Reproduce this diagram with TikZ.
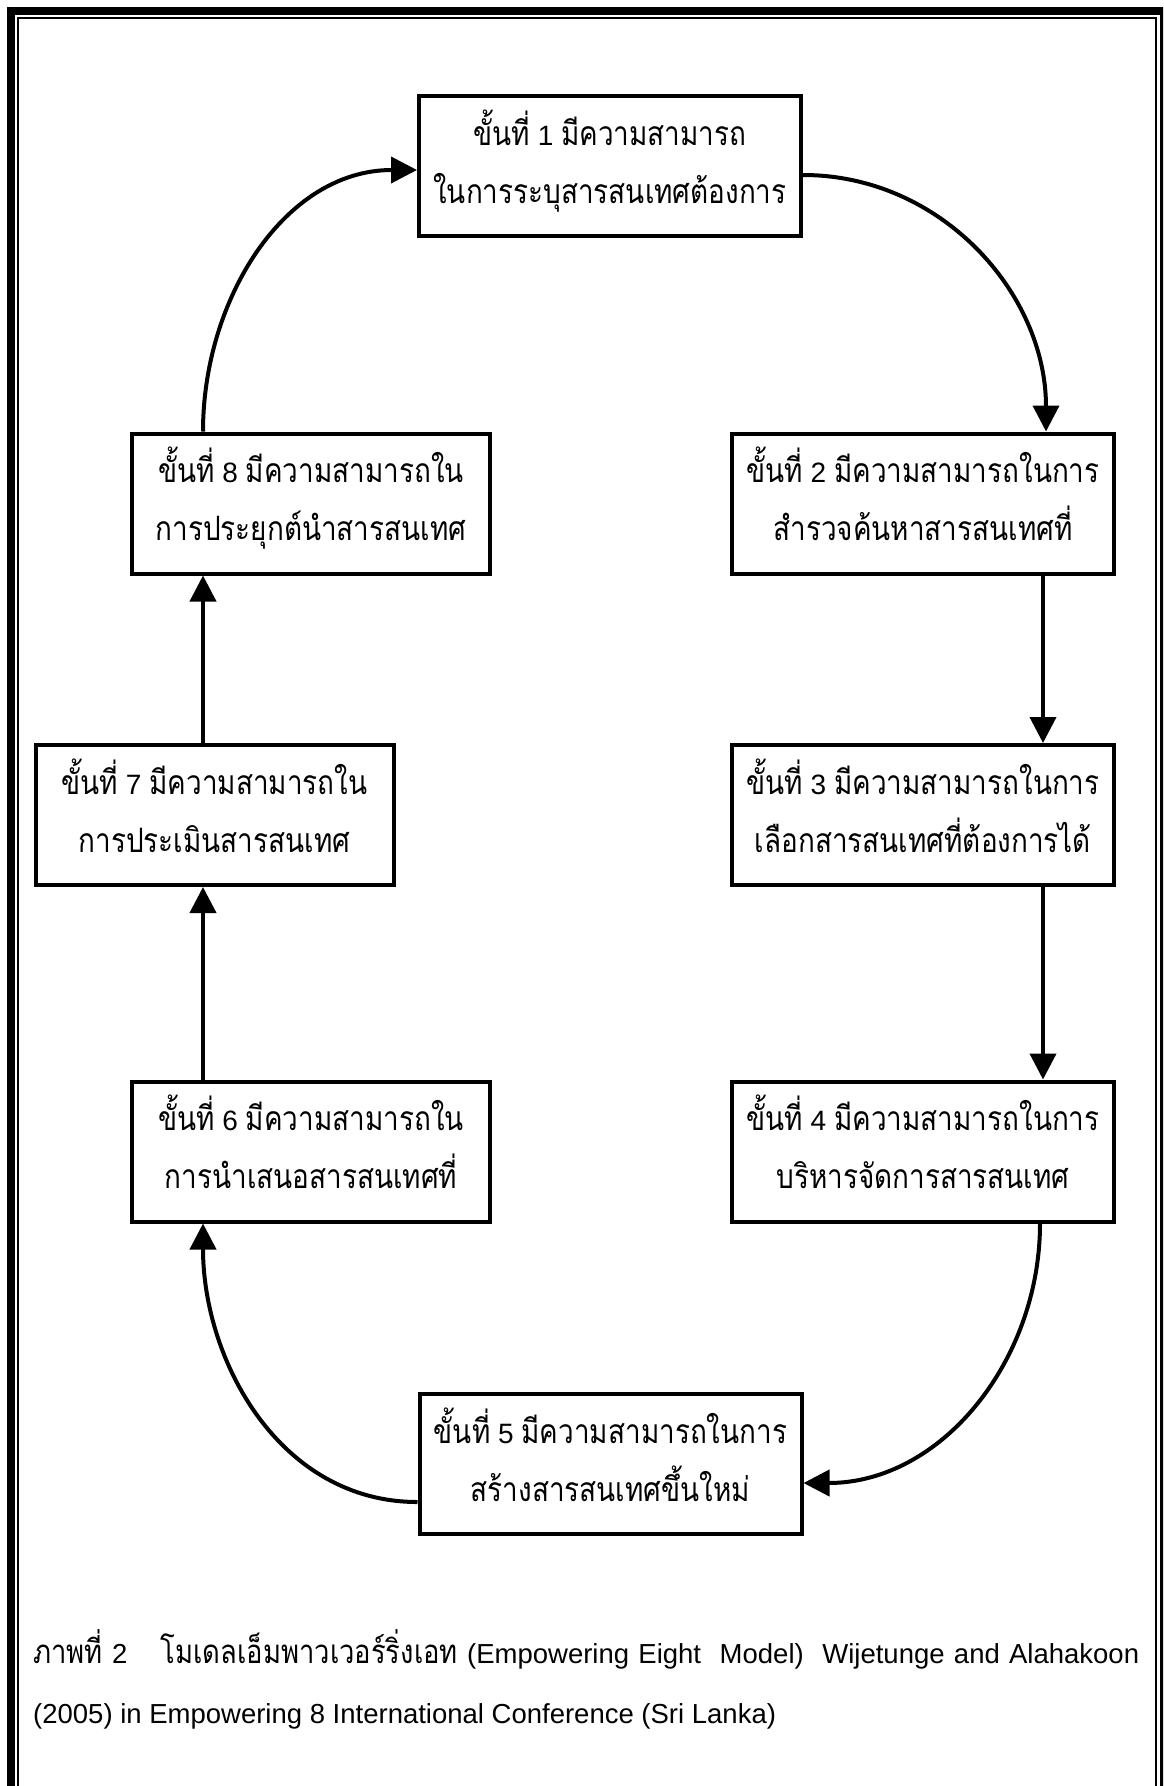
\documentclass[tikz,border=0pt]{standalone}
\usepackage{fontspec}
\setmainfont{Liberation Sans}
\newfontfamily\thai[Script=Thai,Scale=1.2,FakeStretch=0.83]{Loma}
\usetikzlibrary{arrows.meta}
\newcommand{\tht}[1]{{\thai #1}}
\newcommand{\boxlines}[3]{\vbox to 140pt{\offinterlineskip\hsize=#1\relax\vskip 49pt\hbox to #1{\hss\smash{#2}\hss}\vskip 58pt\hbox to #1{\hss\smash{#3}\hss}\vfill}}
\begin{document}
\begin{tikzpicture}[x=1pt,y=-1pt,
  stepbox/.style={draw, line width=4pt, inner sep=0pt, fill=white,
    font=\fontsize{28pt}{58pt}\selectfont},
  conn/.style={line width=4pt, -{Triangle[length=26pt,width=26pt]}},
  captext/.style={anchor=base west, inner sep=0pt, font=\fontsize{27.5pt}{33pt}\selectfont}]
\useasboundingbox (0,0) rectangle (1163,1786);
\clip (0,0) rectangle (1163,1786);
% page border
\draw[line width=8pt] (11,11) rectangle (1164,1800);
\draw[line width=2pt] (18,18) rectangle (1156,1800);
% helper coordinates for connector columns
\coordinate (xl) at (203,0);
\coordinate (xr) at (1043,0);
\coordinate (xra) at (1046,0);
\coordinate (xrb) at (1040,0);
% boxes
\node[stepbox] (b1) at (610,166) {\boxlines{382pt}{\tht{ขั้นที่} 1 \tht{มีความสามารถ}}{\tht{ในการระบุสารสนเทศต้องการ}}};
\node[stepbox] (b2) at (923,503.5) {\boxlines{382pt}{\tht{ขั้นที่} 2 \tht{มีความสามารถในการ}}{\tht{สำรวจค้นหาสารสนเทศที่}}};
\node[stepbox] (b3) at (923,815) {\boxlines{382pt}{\tht{ขั้นที่} 3 \tht{มีความสามารถในการ}}{\tht{เลือกสารสนเทศที่ต้องการได้}}};
\node[stepbox] (b4) at (923,1151.5) {\boxlines{382pt}{\tht{ขั้นที่} 4 \tht{มีความสามารถในการ}}{\tht{บริหารจัดการสารสนเทศ}}};
\node[stepbox] (b5) at (610.5,1464) {\boxlines{382pt}{\tht{ขั้นที่} 5 \tht{มีความสามารถในการ}}{\tht{สร้างสารสนเทศขึ้นใหม่}}};
\node[stepbox] (b6) at (311,1151.5) {\boxlines{358pt}{\tht{ขั้นที่} 6 \tht{มีความสามารถใน}}{\tht{การนำเสนอสารสนเทศที่}}};
\node[stepbox] (b7) at (214.5,815) {\boxlines{358pt}{\tht{ขั้นที่} 7 \tht{มีความสามารถใน}}{\tht{การประเมินสารสนเทศ}}};
\node[stepbox] (b8) at (311,503.5) {\boxlines{358pt}{\tht{ขั้นที่} 8 \tht{มีความสามารถใน}}{\tht{การประยุกต์นำสารสนเทศ}}};
% connectors
\draw[conn] ([yshift=-9pt]b1.east) to[out=0,in=90] (b2.north -| xra);
\draw[conn] (b2.south -| xr) -- (b3.north -| xr);
\draw[conn] (b3.south -| xr) -- (b4.north -| xr);
\draw[conn] (b4.south -| xrb) to[out=-90,in=0] ([yshift=-19pt]b5.east);
\draw[conn] ([yshift=-38pt]b5.west) to[out=180,in=-90] (b6.south -| xl);
\draw[conn] (b6.north -| xl) -- (b7.south -| xl);
\draw[conn] (b7.north -| xl) -- (b8.south -| xl);
\draw[conn] (b8.north -| xl) to[out=90,in=180] ([yshift=-4pt]b1.west);
% caption
\node[captext] (cap1) at (33,1663) {\makebox[1106pt][s]{\tht{ภาพที่} 2\hspace{24pt} \tht{โมเดลเอ็มพาวเวอร์ริ่งเอท} (Empowering Eight\ \ Model)\ \ Wijetunge and Alahakoon}};
\node[captext] (cap2) at (33,1723) {(2005) in Empowering 8 International Conference (Sri Lanka)};
\end{tikzpicture}
\end{document}
